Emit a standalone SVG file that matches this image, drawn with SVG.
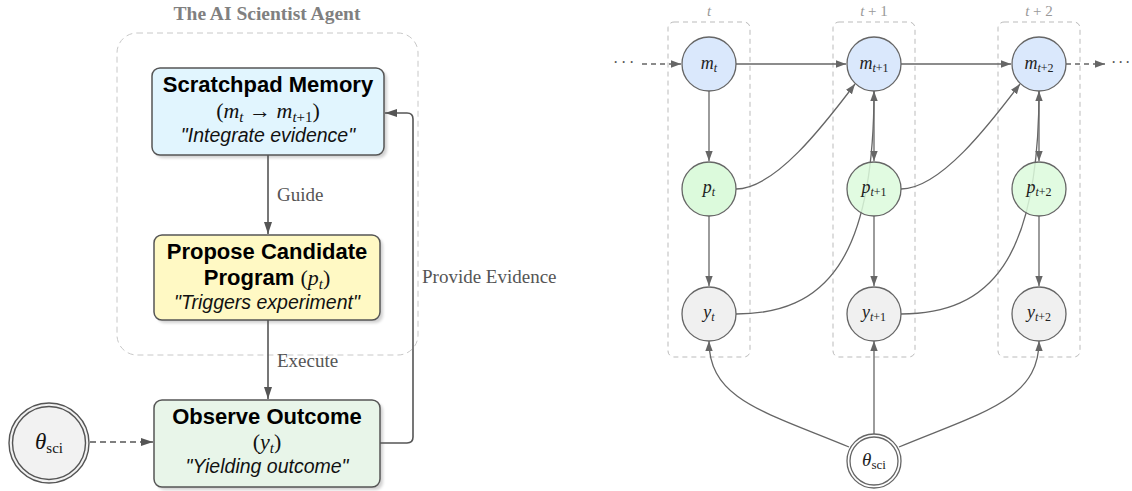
<svg xmlns="http://www.w3.org/2000/svg" width="1132" height="491" viewBox="0 0 1132 491">
<style>
.bx{stroke:#555;stroke-width:1.5}
.ttl{font-family:"Liberation Sans",Arial,sans-serif;font-weight:bold;font-size:22px;fill:#000}
.it{font-family:"Liberation Sans",Arial,sans-serif;font-style:italic;font-size:19.5px;fill:#111}
.mth{font-family:"Liberation Serif","DejaVu Serif",serif;font-size:22px;fill:#111}
.lbl{font-family:"Liberation Serif","DejaVu Serif",serif;font-size:19px;fill:#555}
.nl{font-family:"Liberation Serif","DejaVu Serif",serif;font-size:18px;fill:#222}
.cl{font-family:"Liberation Serif","DejaVu Serif",serif;font-size:15px;fill:#999}
.dots{font-family:"Liberation Serif","DejaVu Serif",serif;font-size:16px;fill:#555}
.i{font-style:italic}
.lc{fill:none;stroke:#555;stroke-width:1.6}
.rc{fill:none;stroke:#666;stroke-width:1.3}
.dash{stroke-dasharray:6 4}
.col{fill:none;stroke:#bbb;stroke-width:1;stroke-dasharray:5 4}
.nd{stroke:#666;stroke-width:1.3}
</style>
<defs>
<marker id="al" viewBox="0 0 12 10" refX="12" refY="5" markerWidth="12" markerHeight="10" markerUnits="userSpaceOnUse" orient="auto"><path d="M0,1 L12,5 L0,9 z" fill="#555"/></marker>
<marker id="ar" viewBox="0 0 10 10" refX="10" refY="5" markerWidth="10" markerHeight="10" markerUnits="userSpaceOnUse" orient="auto"><path d="M0,1.3 L10,5 L0,8.7 z" fill="#666"/></marker>
<filter id="sh" x="-10%" y="-10%" width="120%" height="130%"><feGaussianBlur stdDeviation="1.5"/></filter>
</defs>

<!-- LEFT PANEL -->
<g id="agent-container">
<rect x="117" y="33" width="301" height="322" rx="20" fill="none" stroke="#c8c8c8" stroke-width="1" stroke-dasharray="6 4"/>
<text x="267" y="20" text-anchor="middle" font-family="Liberation Serif,serif" font-weight="bold" font-size="19.5" fill="#808080">The AI Scientist Agent</text>
</g>

<g id="scratchpad">
<rect x="155" y="71" width="232" height="87" rx="8" fill="#000" opacity="0.18" filter="url(#sh)"/>
<rect class="bx" x="152" y="68" width="232" height="87" rx="8" fill="#e1f5fe"/>
<text class="ttl" x="268" y="92" text-anchor="middle">Scratchpad Memory</text>
<text class="mth" x="268" y="118" text-anchor="middle">(<tspan class="i">m</tspan><tspan class="i" font-size="15" dy="4">t</tspan><tspan dy="-4"> → </tspan><tspan class="i">m</tspan><tspan font-size="15" dy="4"><tspan class="i">t</tspan>+1</tspan><tspan dy="-4">)</tspan></text>
<text class="it" x="268" y="142" text-anchor="middle">"Integrate evidence"</text>
</g>

<g id="propose">
<rect x="157" y="238" width="226" height="85" rx="8" fill="#000" opacity="0.18" filter="url(#sh)"/>
<rect class="bx" x="154" y="235" width="226" height="85" rx="8" fill="#fff9c4"/>
<text class="ttl" x="267" y="259" text-anchor="middle">Propose Candidate</text>
<text x="267" y="285" text-anchor="middle"><tspan class="ttl">Program </tspan><tspan class="mth">(<tspan class="i">p</tspan><tspan class="i" font-size="15" dy="4">t</tspan><tspan dy="-4">)</tspan></tspan></text>
<text class="it" x="267" y="309" text-anchor="middle">"Triggers experiment"</text>
</g>

<g id="observe">
<rect x="157" y="403" width="226" height="87" rx="8" fill="#000" opacity="0.18" filter="url(#sh)"/>
<rect class="bx" x="154" y="400" width="226" height="87" rx="8" fill="#e8f5e9"/>
<text class="ttl" x="267" y="424" text-anchor="middle">Observe Outcome</text>
<text class="mth" x="267" y="449" text-anchor="middle">(<tspan class="i">y</tspan><tspan class="i" font-size="15" dy="4">t</tspan><tspan dy="-4">)</tspan></text>
<text class="it" x="267" y="473" text-anchor="middle">"Yielding outcome"</text>
</g>

<g id="theta-left">
<circle cx="49" cy="443" r="40" fill="#f2f2f2" stroke="#555" stroke-width="1.4"/>
<circle cx="49" cy="443" r="36.5" fill="none" stroke="#555" stroke-width="1.4"/>
<text x="49" y="449" text-anchor="middle" class="mth"><tspan class="i" font-size="23">θ</tspan><tspan font-size="15" dy="4">sci</tspan></text>
</g>

<g id="left-connectors">
<path class="lc" d="M268,155 V234" marker-end="url(#al)"/>
<text class="lbl" x="277" y="201">Guide</text>
<path class="lc" d="M268,320 V399" marker-end="url(#al)"/>
<text class="lbl" x="277" y="367">Execute</text>
<path class="lc dash" d="M90,442 H153" marker-end="url(#al)"/>
<path class="lc" d="M380,443 H407 Q413,443 413,437 V119 Q413,113 407,113 H385" marker-end="url(#al)"/>
<text class="lbl" x="422" y="283">Provide Evidence</text>
</g>

<!-- RIGHT PANEL -->
<g id="columns">
<rect class="col" x="668" y="22" width="82" height="335" rx="6"/>
<rect class="col" x="833" y="22" width="82" height="335" rx="6"/>
<rect class="col" x="998" y="22" width="82" height="335" rx="6"/>
<text class="cl i" x="709" y="16" text-anchor="middle">t</text>
<text class="cl" x="874" y="16" text-anchor="middle"><tspan class="i">t</tspan> + 1</text>
<text class="cl" x="1039" y="16" text-anchor="middle"><tspan class="i">t</tspan> + 2</text>
</g>

<g id="right-connectors">
<text class="dots" x="613 621 629" y="68">···</text>
<path class="rc" d="M642,64 H681" stroke-dasharray="5 4" marker-end="url(#ar)"/>
<path class="rc" d="M1066,64 H1105" stroke-dasharray="5 4" marker-end="url(#ar)"/>
<text class="dots" x="1111 1118 1125" y="68">···</text>
<path class="rc" d="M736,64 H846" marker-end="url(#ar)"/>
<path class="rc" d="M901,64 H1011" marker-end="url(#ar)"/>
<path class="rc" d="M709,91 V161" marker-end="url(#ar)"/>
<path class="rc" d="M709,216 V286" marker-end="url(#ar)"/>
<path class="rc" d="M874,91 V161" marker-end="url(#ar)"/>
<path class="rc" d="M874,216 V286" marker-end="url(#ar)"/>
<path class="rc" d="M1039,91 V161" marker-end="url(#ar)"/>
<path class="rc" d="M1039,216 V286" marker-end="url(#ar)"/>
<path class="rc" d="M736,189 C775,189 824,125 855,84" marker-end="url(#ar)"/>
<path class="rc" d="M901,189 C940,189 989,125 1020,84" marker-end="url(#ar)"/>
<path class="rc" d="M736,314 C825,314 874,260 874,91" marker-end="url(#ar)"/>
<path class="rc" d="M901,314 C990,314 1039,260 1039,91" marker-end="url(#ar)"/>
<path class="rc" d="M849,447 C765,412 709,400 709,341" marker-end="url(#ar)"/>
<path class="rc" d="M874,434 V341" marker-end="url(#ar)"/>
<path class="rc" d="M899,447 C983,412 1039,400 1039,341" marker-end="url(#ar)"/>
</g>

<g id="m_t"><circle class="nd" cx="709" cy="64" r="27" fill="#dae8fc"/><text class="nl" x="709" y="69" text-anchor="middle"><tspan class="i">m</tspan><tspan class="i" font-size="12" dy="3">t</tspan></text></g>
<g id="m_t1"><circle class="nd" cx="874" cy="64" r="27" fill="#dae8fc"/><text class="nl" x="874" y="69" text-anchor="middle"><tspan class="i">m</tspan><tspan font-size="12" dy="3"><tspan class="i">t</tspan>+1</tspan></text></g>
<g id="m_t2"><circle class="nd" cx="1039" cy="64" r="27" fill="#dae8fc"/><text class="nl" x="1039" y="69" text-anchor="middle"><tspan class="i">m</tspan><tspan font-size="12" dy="3"><tspan class="i">t</tspan>+2</tspan></text></g>

<g id="p_t"><circle class="nd" cx="709" cy="189" r="27" fill="#dcfadc"/><text class="nl" x="709" y="193" text-anchor="middle"><tspan class="i">p</tspan><tspan class="i" font-size="12" dy="3">t</tspan></text></g>
<g id="p_t1"><circle class="nd" cx="874" cy="189" r="27" fill="#dcfadc" fill-opacity="0.85"/><text class="nl" x="874" y="193" text-anchor="middle"><tspan class="i">p</tspan><tspan font-size="12" dy="3"><tspan class="i">t</tspan>+1</tspan></text></g>
<g id="p_t2"><circle class="nd" cx="1039" cy="189" r="27" fill="#dcfadc" fill-opacity="0.85"/><text class="nl" x="1039" y="193" text-anchor="middle"><tspan class="i">p</tspan><tspan font-size="12" dy="3"><tspan class="i">t</tspan>+2</tspan></text></g>

<g id="y_t"><circle class="nd" cx="709" cy="314" r="27" fill="#f0f0f0"/><text class="nl" x="709" y="318" text-anchor="middle"><tspan class="i">y</tspan><tspan class="i" font-size="12" dy="3">t</tspan></text></g>
<g id="y_t1"><circle class="nd" cx="874" cy="314" r="27" fill="#f0f0f0"/><text class="nl" x="874" y="318" text-anchor="middle"><tspan class="i">y</tspan><tspan font-size="12" dy="3"><tspan class="i">t</tspan>+1</tspan></text></g>
<g id="y_t2"><circle class="nd" cx="1039" cy="314" r="27" fill="#f0f0f0"/><text class="nl" x="1039" y="318" text-anchor="middle"><tspan class="i">y</tspan><tspan font-size="12" dy="3"><tspan class="i">t</tspan>+2</tspan></text></g>

<g id="theta-right">
<circle cx="874" cy="461" r="27" fill="#fff" stroke="#666" stroke-width="1.3"/>
<circle cx="874" cy="461" r="24" fill="none" stroke="#666" stroke-width="1.3"/>
<text x="874" y="466" text-anchor="middle" class="nl"><tspan class="i" font-size="19">θ</tspan><tspan font-size="13" dy="3">sci</tspan></text>
</g>
</svg>
